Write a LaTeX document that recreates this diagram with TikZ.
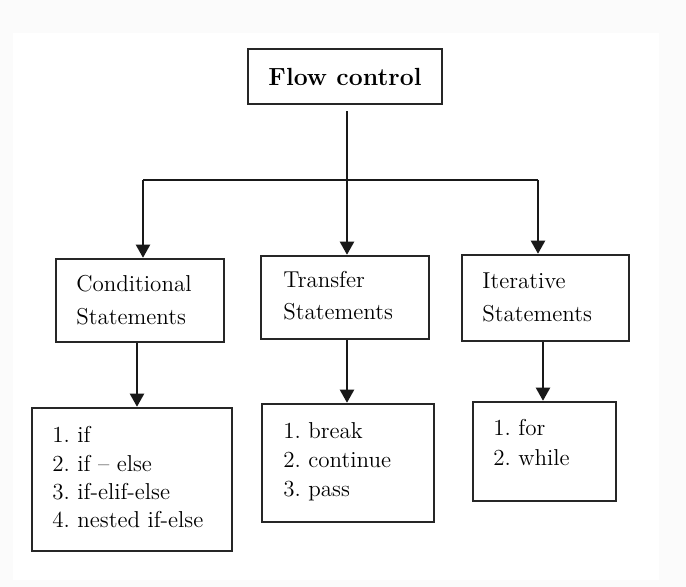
\documentclass[tikz,border=0pt]{standalone}
\usepackage{fontspec}
\usetikzlibrary{arrows.meta}
\frenchspacing
\begin{document}
\begin{tikzpicture}[x=0.5pt,y=-0.5pt,
  boxst/.style={draw=black!85,line width=1.25pt,fill=white,rectangle,inner sep=0pt},
  conn/.style={draw=black!90,line width=1pt},
  arr/.style={conn,-{Triangle[width=7pt,length=6.5pt]}},
  txt/.style={anchor=base west,inner sep=0pt,font=\fontsize{11.5}{13}\selectfont\frenchspacing}]
\useasboundingbox (0,0) rectangle (686,587);
\fill[gray!3] (0,0) rectangle (686,587);
\fill[white] (13,33) rectangle (659,580);
% boxes
\node[boxst,minimum width=97pt,minimum height=27.5pt,font=\fontsize{12.4}{14}\selectfont\bfseries] (fc) at (345,76.5) {Flow control};
\node[boxst,minimum width=84pt,minimum height=41.5pt] (cond) at (140,300.5) {};
\node[boxst,minimum width=84pt,minimum height=41.5pt] (trans) at (345,297.5) {};
\node[boxst,minimum width=83.5pt,minimum height=43pt] (iter) at (545.5,298) {};
\node[boxst,minimum width=100pt,minimum height=71.5pt] (condlist) at (132,479.5) {};
\node[boxst,minimum width=86pt,minimum height=59pt] (translist) at (348,463) {};
\node[boxst,minimum width=71.5pt,minimum height=49.5pt] (iterlist) at (544.5,451.5) {};
% texts
\node[txt] (c1) at (76,292) {Conditional};
\node[txt] (c2) at (76,325) {Statements};
\node[txt] (t1) at (283,288) {Transfer};
\node[txt] (t2) at (283,320) {Statements};
\node[txt] (i1) at (482,289) {Iterative};
\node[txt] (i2) at (482,322) {Statements};
\node[txt] (cl1) at (52,443) {1. if};
\node[txt] (cl2) at (52,472) {2. if -- else};
\node[txt] (cl3) at (52,500) {3. if-elif-else};
\node[txt] (cl4) at (52,528) {4. nested if-else};
\node[txt] (tl1) at (283,439) {1. break};
\node[txt] (tl2) at (283,468) {2. continue};
\node[txt] (tl3) at (283,497) {3. pass};
\node[txt] (il1) at (493,436) {1. for};
\node[txt] (il2) at (493,466) {2. while};
% connectors
\coordinate (jl) at (143,180);
\coordinate (jm) at (347,180);
\coordinate (jr) at (538,180);
\draw[conn] ([yshift=-3pt,xshift=1pt]fc.south) -- (jm);
\draw[conn] (jl) -- (jr);
\draw[arr] (jl) -- (jl |- cond.north);
\draw[arr] (jm) -- (jm |- trans.north);
\draw[arr] (jr) -- (jr |- iter.north);
\draw[arr] ([xshift=-1.5pt]cond.south) -- ([xshift=-1.5pt]cond.south |- condlist.north);
\draw[arr] ([xshift=1pt]trans.south) -- ([xshift=1pt]trans.south |- translist.north);
\draw[arr] ([xshift=-1.25pt]iter.south) -- ([xshift=-1.25pt]iter.south |- iterlist.north);
\end{tikzpicture}
\end{document}
